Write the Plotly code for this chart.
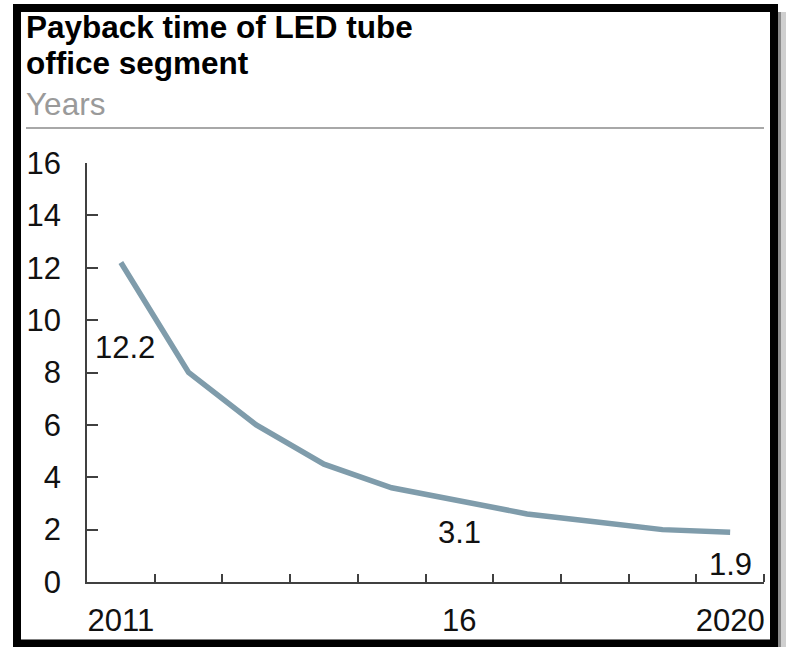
import plotly.graph_objects as go

years = [2011, 2012, 2013, 2014, 2015, 2016, 2017, 2018, 2019, 2020]
payback = [12.2, 8.0, 6.0, 4.5, 3.6, 3.1, 2.6, 2.3, 2.0, 1.9]
tick_vals = [2011, 2016, 2020]
tick_text = ["2011", "16", "2020"]
labelled = {2011: "12.2", 2016: "3.1", 2020: "1.9"}

W, H = 786, 647
L, R, T, B = 87, 22, 163, 65
PW, PH = W - L - R, H - T - B
FONT = "Arial, Liberation Sans, sans-serif"
FS = 31


def px(x):
    return (x - L) / PW


def py(y):
    return (H - B - y) / PH


fig = go.Figure()
fig.add_trace(go.Scatter(
    x=years, y=payback, mode="lines",
    line=dict(color="#7f9cab", width=5.5),
    hoverinfo="skip", showlegend=False,
))

shifts = {2011: (4, -85), 2016: (0, -32), 2020: (0, -32)}
annotations = []
for yr, txt in labelled.items():
    v = payback[years.index(yr)]
    dx, dy = shifts[yr]
    annotations.append(dict(x=yr, y=v, xref="x", yref="y", text=txt, showarrow=False,
                            xanchor="center", yanchor="middle", xshift=dx, yshift=dy,
                            font=dict(family=FONT, size=FS, color="#111111")))

annotations += [
    dict(x=px(24), y=py(27), xref="paper", yref="paper", text="<b>Payback time of LED tube</b>",
         showarrow=False, xanchor="left", yanchor="middle",
         font=dict(family=FONT, size=31.5, color="#000000")),
    dict(x=px(24), y=py(63.5), xref="paper", yref="paper", text="<b>office segment</b>",
         showarrow=False, xanchor="left", yanchor="middle",
         font=dict(family=FONT, size=31.5, color="#000000")),
    dict(x=px(24), y=py(104), xref="paper", yref="paper", text="Years",
         showarrow=False, xanchor="left", yanchor="middle",
         font=dict(family=FONT, size=31.5, color="#9a9a9a")),
]

shapes = [
    dict(type="line", xref="paper", yref="paper", x0=px(26), x1=px(764), y0=py(128), y1=py(128),
         line=dict(color="#a8a8a8", width=2)),
    dict(type="rect", xref="paper", yref="paper", x0=px(778), x1=px(781), y0=py(12), y1=py(650),
         fillcolor="#8a8a8a", line=dict(width=0)),
    dict(type="rect", xref="paper", yref="paper", x0=px(781), x1=px(790), y0=py(12), y1=py(650),
         fillcolor="#cfcfcf", line=dict(width=0)),
    dict(type="rect", xref="paper", yref="paper", x0=px(17), x1=px(774), y0=py(8), y1=py(643.5),
         line=dict(color="#000000", width=8), fillcolor="rgba(0,0,0,0)"),
]

fig.update_layout(
    width=W, height=H,
    margin=dict(l=L, r=R, t=T, b=B, pad=0, autoexpand=False),
    paper_bgcolor="white", plot_bgcolor="white",
    showlegend=False,
    annotations=annotations,
    shapes=shapes,
    xaxis=dict(
        automargin=False,
        range=[2010.5, 2020.5], tickmode="array", tickvals=tick_vals, ticktext=tick_text,
        ticks="", showgrid=False, zeroline=False,
        showline=True, linecolor="#404040", linewidth=1.5,
        tickfont=dict(family=FONT, size=FS, color="#111111"),
        ticklabelstandoff=10,
        minor=dict(tickmode="array", tickvals=[y + 0.5 for y in years], ticks="inside",
                   ticklen=8, tickwidth=1.5, tickcolor="#404040", showgrid=False),
    ),
    yaxis=dict(
        automargin=False,
        range=[0, 16], tickmode="linear", tick0=0, dtick=2,
        ticks="inside", ticklen=11, tickwidth=1.5, tickcolor="#404040",
        showgrid=False, zeroline=False,
        showline=True, linecolor="#404040", linewidth=1.5,
        tickfont=dict(family=FONT, size=FS, color="#111111"),
        ticklabelstandoff=18,
    ),
)

fig.write_html(
    "out.html",
    config={"displayModeBar": False},
    post_script="document.documentElement.style.margin='0';document.body.style.margin='0';"
                "document.body.style.overflow='hidden';",
)
